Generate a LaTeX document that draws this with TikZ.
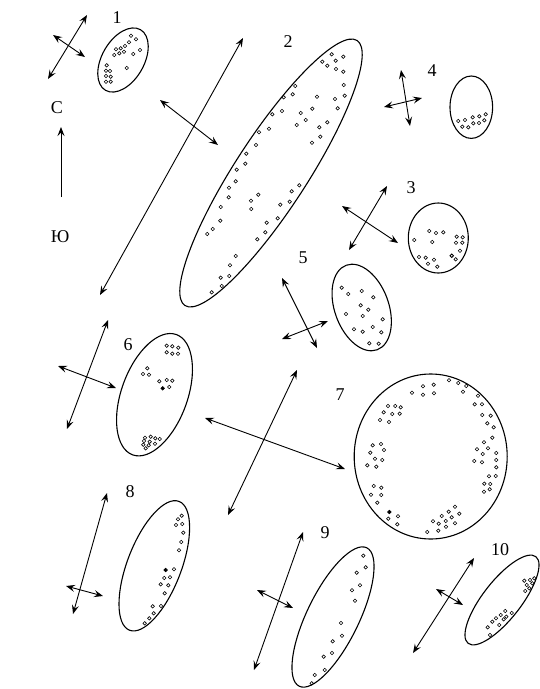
\documentclass[tikz,border=0pt]{standalone}
\usepackage{fontspec}
\setmainfont{Liberation Serif}
\usetikzlibrary{arrows.meta}
\tikzset{
  ell/.style={line width=1.1pt},
  dbl/.style={line width=0.9pt,{Stealth[length=9pt,width=7pt,inset=3.5pt]}-{Stealth[length=9pt,width=7pt,inset=3.5pt]}},
  sgl/.style={line width=0.9pt,-{Stealth[length=9pt,width=7pt,inset=3.5pt]}},
  dotc/.style={line width=0.6pt},
  dotf/.style={line width=0.6pt,fill=black},
  lab/.style={font=\fontsize{18}{20}\selectfont,inner sep=0pt}
}
\begin{document}
\begin{tikzpicture}[x=1pt,y=-1pt]
\useasboundingbox (0,0) rectangle (540,689);
% labels
\node[lab] (l1) at (117,18) {1};
\node[lab] (l2) at (288,42) {2};
\node[lab] (l3) at (411,188) {3};
\node[lab] (l4) at (432,71) {4};
\node[lab] (l5) at (303,258) {5};
\node[lab] (l6) at (128,345) {6};
\node[lab] (l7) at (340,395) {7};
\node[lab] (l8) at (130,492) {8};
\node[lab] (l9) at (325,533) {9};
\node[lab] (l10) at (500,550) {10};
\node[lab] (north) at (57,108) {С};
\node[lab] (south) at (60,237) {Ю};
\draw[sgl] (61,197) -- (61,127);
% ellipses
\draw[ell, rotate around={60:(123,60)}] (123,60) ellipse[x radius=35, y radius=21];
\draw[ell, rotate around={57:(271,173)}] (271,173) ellipse[x radius=158, y radius=36];
\draw[ell] (438.3,238) ellipse[x radius=30, y radius=35];
\draw[ell] (471.3,107.2) ellipse[x radius=21.3, y radius=31.2];
\draw[ell, rotate around={20:(361.7,307.5)}] (361.7,307.5) ellipse[x radius=27, y radius=45];
\draw[ell, rotate around={-20:(154.5,394.7)}] (154.5,394.7) ellipse[x radius=33, y radius=64];
\draw[ell] (430.7,456.5) ellipse[x radius=76.5, y radius=82.5];
\draw[ell, rotate around={-21:(154.3,565.8)}] (154.3,565.8) ellipse[x radius=27, y radius=69];
\draw[ell, rotate around={-26:(333,617)}] (333,617) ellipse[x radius=26, y radius=77];
\draw[ell, rotate around={52:(502,600)}] (502,600) ellipse[x radius=55, y radius=19];
% arrows
\draw[dbl] (48,79) -- (87,15);
\draw[dbl] (53,35) -- (85,57);
\draw[dbl] (100,295) -- (243,38);
\draw[dbl] (160,100) -- (218,145);
\draw[dbl] (401,70) -- (410,126);
\draw[dbl] (384,107) -- (422,98);
\draw[dbl] (342,206) -- (398,243);
\draw[dbl] (387,186) -- (349,250);
\draw[dbl] (282,278) -- (317,348);
\draw[dbl] (282,339) -- (328,321);
\draw[dbl] (108,320) -- (67,429);
\draw[dbl] (58,366) -- (116,388);
\draw[dbl] (205,418) -- (345,469);
\draw[dbl] (297,370) -- (228,515);
\draw[dbl] (107,493) -- (73,614);
\draw[dbl] (66,586) -- (103,596);
\draw[dbl] (303,532) -- (254,670);
\draw[dbl] (257,590) -- (293,608);
\draw[dbl] (474,558) -- (413,653);
\draw[dbl] (436,589) -- (463,605);
% dots 1
\foreach \p in {(131,35.7),(136,39.3),(129,42.3),(125,46),(120.7,48.3),(116,49.3),(124,51.7),(119.3,53.3),(114.3,55),(133.3,54),(140,50),(106.7,65.3),(106,70.7),(110,71),(106,76),(110.7,76.7),(106,81.7),(110.7,81.7),(126.7,68)}
  \draw[dotc] \p circle[radius=1.75];
% dots 2
\foreach \p in {(331.7,54.3),(343.3,56.7),(322.3,61.7),(335.7,60.7),(327.3,65.7),(336,69),(343.3,71.7),(343.7,85),(295.3,86),(292.7,94.3),(283.7,97.3),(317,96.7),(335,99),(344.7,95.7),(312.3,108.7),(337.7,108.3),(282,111),(272.3,114.3),(300.7,113),(305.7,120),(327.3,122.3),(296.7,125),(319.3,127.3),(269,128.7),(259,132.3),(320.3,136.7),(312,142.7),(256,145),(246.3,153.7),(245.3,163.7),(236.7,169.7),(235.7,181.3),(229,187.7),(299.3,185.3),(291.7,191.3),(228.7,197.3),(258.3,194.7),(251,200.7),(289.7,201.7),(280.3,204.7),(251.3,209),(220.7,207),(277.7,218.3),(266.7,222.7),(220.3,220.7),(265.3,232.3),(212.7,229),(207.3,234),(257.3,239.3),(235.7,256),(230,265.3),(220.7,277.7),(229.3,276),(221.7,286),(211.7,292.3)}
  \draw[dotc] \p circle[radius=1.75];
% dots 3
\foreach \p in {(429.3,231),(436,233),(443.3,232.3),(414.3,240),(432.3,242),(456.7,236.7),(462.7,237.3),(456,242.7),(462.3,242.7),(460,250.7),(455.7,259.3),(419,257),(425.7,257.7),(434,259.7),(428,263.7),(437.3,266.7)}
  \draw[dotc] \p circle[radius=1.75];
\draw[dotc,line width=0.9pt] (451.7,255.7) circle[radius=1.75];
% dots 4
\foreach \p in {(458.3,121),(465,120),(472.7,117.3),(479.3,116.3),(485.7,114.3),(462.3,126.7),(468.3,127.3),(473.3,123.3),(479,123),(484.3,120.3)}
  \draw[dotc] \p circle[radius=1.75];
% dots 5
\foreach \p in {(341.7,287.7),(348.3,294),(361.7,291),(373.3,297.3),(360.7,305.3),(368.3,309.7),(346,314),(362.7,316),(382.7,319.3),(354,329.3),(362.7,331.7),(372.7,327),(381.3,332.3),(369.3,343.3),(378.7,343.7)}
  \draw[dotc] \p circle[radius=1.75];
% dots 6
\foreach \p in {(166.7,345.7),(172.3,346.3),(178.3,347.7),(166.7,352.3),(172.3,353.7),(178,353.7),(147.3,368.3),(143,374),(149,374.7),(159.3,381.3),(166.7,380),(172.3,380.7),(169.3,387),(145,437.7),(150.7,436.7),(155.3,438.3),(159.7,439),(144,441),(149.7,441.7),(155,443.7),(143.3,444.7),(148.7,445.3),(145.7,448.3)}
  \draw[dotc] \p circle[radius=1.75];
\draw[dotf] (162.7,388.3) circle[radius=1.8];
% dots 7
\foreach \p in {(449,380.3),(458.3,383),(466.3,386),(463,391.7),(433.7,384.7),(423,386.3),(423,394.7),(434,393.3),(412,392.7),(388,406),(395.3,406),(400.7,407.3),(383.7,412.3),(392.3,414),(399.7,413.7),(380,420),(389,422),(478,395.7),(474.7,404.3),(482,404.3),(482.3,415),(490.7,415.7),(487.3,423.3),(493.7,427.3),(492.3,437.7),(484,442.3),(477,449.3),(488,448.3),(482.7,454),(496.3,453),(474.3,461),(482,462.3),(496.3,460),(496.3,467.3),(489,476.3),(495.7,476),(484.3,483.7),(490.3,484),(484,491.7),(489.7,489.3),(372.7,445.3),(381,444),(370.3,452.7),(384,450),(375,458.7),(382.3,460),(367.3,465.3),(376.3,466.7),(373.7,486),(381.3,487.7),(371,494.7),(381.3,495),(377.3,502.7),(398,516.3),(388.3,518.7),(397.3,524.3),(455,506.7),(448.7,511.7),(459.3,513.7),(441.7,516),(451.7,517.3),(433,521.3),(438.7,523.7),(445.7,521),(455,523.3),(446,526.7),(438.3,530.7),(427.3,532)}
  \draw[dotc] \p circle[radius=1.75];
\draw[dotf] (389.3,512) circle[radius=1.8];
% dots 8
\foreach \p in {(181.7,515.7),(178,519.3),(182.3,524),(176,525),(183.3,532.7),(181.3,542),(179,550.3),(174,569.3),(164.3,578),(170,577.3),(160.7,584.3),(168.3,585.3),(164.7,593.3),(152.7,606.3),(161,606),(153.7,613.3),(149.3,618.3),(144.7,623.3)}
  \draw[dotc] \p circle[radius=1.75];
\draw[dotf] (165.7,570) circle[radius=1.8];
% dots 9
\foreach \p in {(363.3,555.7),(365.7,567.3),(356.7,572.7),(360,585.3),(352,590.3),(355,600.7),(341,623),(342,635.7),(332.7,641.3),(332,653),(323.7,656.7),(324.7,670),(314.7,675),(311.7,683.3)}
  \draw[dotc] \p circle[radius=1.75];
% dots 10
\foreach \p in {(524.3,580.7),(530,580),(534.3,578.3),(526.7,585),(532.3,583.3),(525.3,591),(529.3,588.3),(505.3,611),(511.7,613),(500.7,615),(506.3,616.7),(496,618.3),(503.7,619.3),(492.3,621.7),(499.3,625),(487.7,627.3),(490,635)}
  \draw[dotc] \p circle[radius=1.75];
\end{tikzpicture}
\end{document}
